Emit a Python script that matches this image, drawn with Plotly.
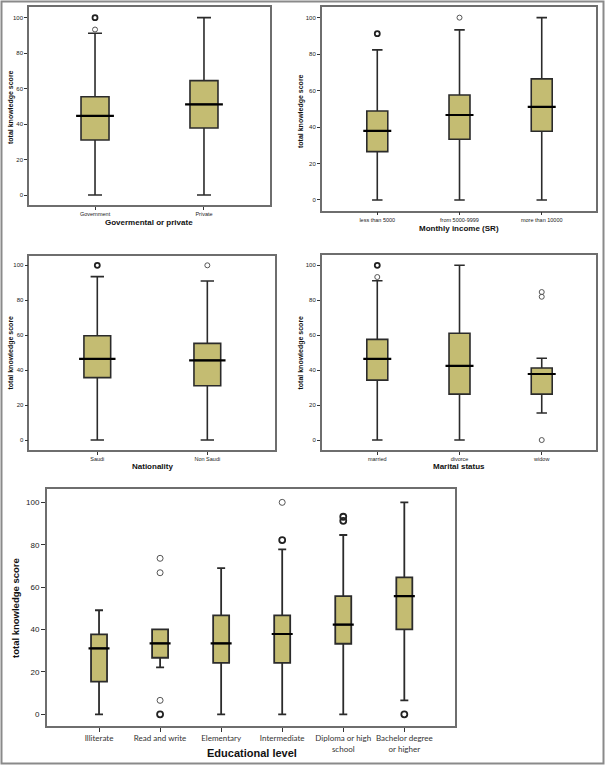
import plotly.graph_objects as go

W, H = 605, 765

# ---------------- data ----------------
# Panel 1: Governmental or private
p1_cats = ["Government", "Private"]
p1_low = [0, 0]
p1_q1 = [31.0, 37.8]
p1_med = [44.6, 51.1]
p1_q3 = [55.4, 64.5]
p1_high = [91.2, 100]
p1_out_x = ["Government", "Government"]
p1_out_y = [100, 93.3]
p1_out_n = [3, 1]

# Panel 2: Monthly income (SR)
p2_cats = ["less than 5000", "from 5000-9999", "more than 10000"]
p2_low = [0, 0, 0]
p2_q1 = [26.5, 33.3, 37.7]
p2_med = [37.9, 46.6, 51.0]
p2_q3 = [48.8, 57.6, 66.4]
p2_high = [82.3, 93.3, 100]
p2_out_x = ["less than 5000", "from 5000-9999"]
p2_out_y = [91.2, 100]
p2_out_n = [2, 1]

# Panel 3: Nationality
p3_cats = ["Saudi", "Non Saudi"]
p3_low = [0, 0]
p3_q1 = [35.7, 31.1]
p3_med = [46.5, 45.6]
p3_q3 = [59.7, 55.3]
p3_high = [93.5, 91.0]
p3_out_x = ["Saudi", "Non Saudi"]
p3_out_y = [100, 100]
p3_out_n = [3, 1]

# Panel 4: Marital status
p4_cats = ["married", "divorce", "widow"]
p4_low = [0, 0, 15.5]
p4_q1 = [34.3, 26.3, 26.3]
p4_med = [46.5, 42.4, 37.8]
p4_q3 = [57.6, 61.1, 41.2]
p4_high = [91.2, 100, 46.8]
p4_out_x = ["married", "married", "widow", "widow", "widow"]
p4_out_y = [100, 93.3, 84.7, 82.0, 0]
p4_out_n = [3, 1, 1, 1, 1]

# Panel 5: Educational level
p5_cats = ["Illiterate", "Read and write", "Elementary", "Intermediate",
           "Diploma or high<br>school", "Bachelor degree<br>or higher"]
p5_low = [0, 22.2, 0, 0, 0, 6.6]
p5_q1 = [15.4, 26.7, 24.3, 24.3, 33.3, 40.1]
p5_med = [31.1, 33.5, 33.5, 37.9, 42.3, 55.8]
p5_q3 = [37.7, 40.1, 46.7, 46.7, 55.8, 64.6]
p5_high = [49.1, 40.1, 69.0, 77.8, 84.6, 100]
p5_out_x = ["Read and write", "Read and write", "Read and write", "Read and write",
            "Intermediate", "Intermediate",
            "Diploma or high<br>school", "Diploma or high<br>school",
            "Bachelor degree<br>or higher"]
p5_out_y = [73.6, 66.8, 6.6, 0, 100, 82.2, 93.2, 91.3, 0]
p5_out_n = [1, 1, 1, 3, 1, 3, 2, 2, 2]

y_ticks = [0, 20, 40, 60, 80, 100]

# ---------------- styling ----------------
FILL = "#C4BC72"
EDGE = "#2b2b2b"
FRAME = "#6e6e6e"
FONT = "Liberation Sans, Arial, sans-serif"

fig = go.Figure()


def px_x(v):
    return v / W


def px_y(v):
    return 1 - v / H


def add_panel(i, cats, low, q1, med, q3, high, ox, oy, on,
              dom_x, dom_y, xr, yr, box_w_units, box_w_px, lw, medw,
              tickfont, ticklen, catfont):
    xa = "x" if i == 1 else f"x{i}"
    ya = "y" if i == 1 else f"y{i}"
    fig.add_trace(go.Box(
        x=cats, q1=q1, median=med, q3=q3, lowerfence=low, upperfence=high,
        fillcolor=FILL, line=dict(color=EDGE, width=lw),
        width=box_w_units, whiskerwidth=0.5, boxpoints=False,
        xaxis=xa, yaxis=ya, showlegend=False, hoverinfo="skip"))
    fig.add_trace(go.Scatter(
        x=cats, y=med, mode="markers", xaxis=xa, yaxis=ya, showlegend=False,
        marker=dict(symbol="line-ew", size=box_w_px - 1,
                    line=dict(color="black", width=medw)),
        hoverinfo="skip"))
    bx = [x for x, n in zip(ox, on) if n > 1]
    by = [y for y, n in zip(oy, on) if n > 1]
    lx = [x for x, n in zip(ox, on) if n == 1]
    ly = [y for y, n in zip(oy, on) if n == 1]
    if bx:
        fig.add_trace(go.Scatter(
            x=bx, y=by, mode="markers", xaxis=xa, yaxis=ya, showlegend=False,
            marker=dict(symbol="circle-open", size=5 if i < 5 else 6, color="#222",
                        line=dict(color="#222", width=1.8)), hoverinfo="skip"))
    if lx:
        fig.add_trace(go.Scatter(
            x=lx, y=ly, mode="markers", xaxis=xa, yaxis=ya, showlegend=False,
            marker=dict(symbol="circle-open", size=5 if i < 5 else 6, color="#555",
                        line=dict(color="#555", width=1)), hoverinfo="skip"))
    axis_common = dict(showline=True, mirror=True, linecolor=FRAME, linewidth=1.5,
                       showgrid=False, zeroline=False, ticks="outside",
                       ticklen=ticklen, tickcolor="#333", tickwidth=1.2)
    fig.update_layout(**{
        ("xaxis" if i == 1 else f"xaxis{i}"): dict(
            domain=dom_x, anchor=ya, range=xr, type="category",
            categoryorder="array", categoryarray=cats,
            tickfont=catfont, **axis_common),
        ("yaxis" if i == 1 else f"yaxis{i}"): dict(
            domain=dom_y, anchor=xa, range=yr, tickvals=y_ticks,
            tickfont=tickfont, **axis_common),
    })


small_tick = dict(family=FONT, size=6, color="#222")
small_cat = dict(family=FONT, size=5.5, color="#222")

add_panel(1, p1_cats, p1_low, p1_q1, p1_med, p1_q3, p1_high, p1_out_x, p1_out_y, p1_out_n,
          [px_x(29), px_x(270)], [px_y(205), px_y(7)], [-0.606, 1.606], [-5.6, 106.0],
          0.257, 28, 1.6, 2.2, small_tick, 3, small_cat)
add_panel(2, p2_cats, p2_low, p2_q1, p2_med, p2_q3, p2_high, p2_out_x, p2_out_y, p2_out_n,
          [px_x(321.7), px_x(596)], [px_y(210.7), px_y(6.7)], [-0.676, 2.66], [-5.9, 106.0],
          0.255, 21, 1.6, 2.2, small_tick, 3, small_cat)
add_panel(3, p3_cats, p3_low, p3_q1, p3_med, p3_q3, p3_high, p3_out_x, p3_out_y, p3_out_n,
          [px_x(29.3), px_x(275)], [px_y(450), px_y(255.7)], [-0.618, 1.615], [-5.7, 105.5],
          0.243, 27, 1.6, 2.2, small_tick, 3, small_cat)
add_panel(4, p4_cats, p4_low, p4_q1, p4_med, p4_q3, p4_high, p4_out_x, p4_out_y, p4_out_n,
          [px_x(321.7), px_x(596)], [px_y(450), px_y(255)], [-0.676, 2.66], [-5.7, 105.9],
          0.255, 21, 1.6, 2.2, small_tick, 3, small_cat)
add_panel(5, p5_cats, p5_low, p5_q1, p5_med, p5_q3, p5_high, p5_out_x, p5_out_y, p5_out_n,
          [px_x(46.7), px_x(455)], [px_y(726), px_y(489)], [-0.857, 5.83], [-5.5, 106.3],
          0.262, 16, 1.8, 2.2, dict(family=FONT, size=8, color="#222"), 4,
          dict(family="Lato, Open Sans, sans-serif", size=8, color="#333"))

# ---------------- axis titles as annotations ----------------
ann = []


def title(text, x, y, size, angle=0):
    ann.append(dict(text=f"<b>{text}</b>", x=px_x(x), y=px_y(y), xref="paper", yref="paper",
                    showarrow=False, textangle=angle, xanchor="center", yanchor="middle",
                    font=dict(family=FONT, size=size, color="#111")))


ylab = "total knowledge score"
title(ylab, 11, 107, 7, -90)
title(ylab, 301, 111, 7, -90)
title(ylab, 11, 352.5, 7, -90)
title(ylab, 301, 352.5, 7, -90)
title(ylab, 15, 608, 9.5, -90)
title("Govermental or private", 149, 222, 8)
title("Monthly income (SR)", 459, 228, 8)
title("Nationality", 152.7, 466.7, 8)
title("Marital status", 459.3, 466.7, 8)
title("Educational level", 251.7, 753, 11)

fig.update_layout(
    width=W, height=H, margin=dict(l=0, r=0, t=0, b=0),
    paper_bgcolor="white", plot_bgcolor="white",
    annotations=ann, showlegend=False,
    shapes=[dict(type="rect", xref="paper", yref="paper",
                 x0=1.5 / W, y0=1.5 / H, x1=1 - 1.5 / W, y1=1 - 1.5 / H,
                 line=dict(color="#8a8a8a", width=2))],
)

fig.write_html("out.html", config={"displayModeBar": False},
               post_script="document.body.style.margin='0px';document.body.style.overflow='hidden';")
